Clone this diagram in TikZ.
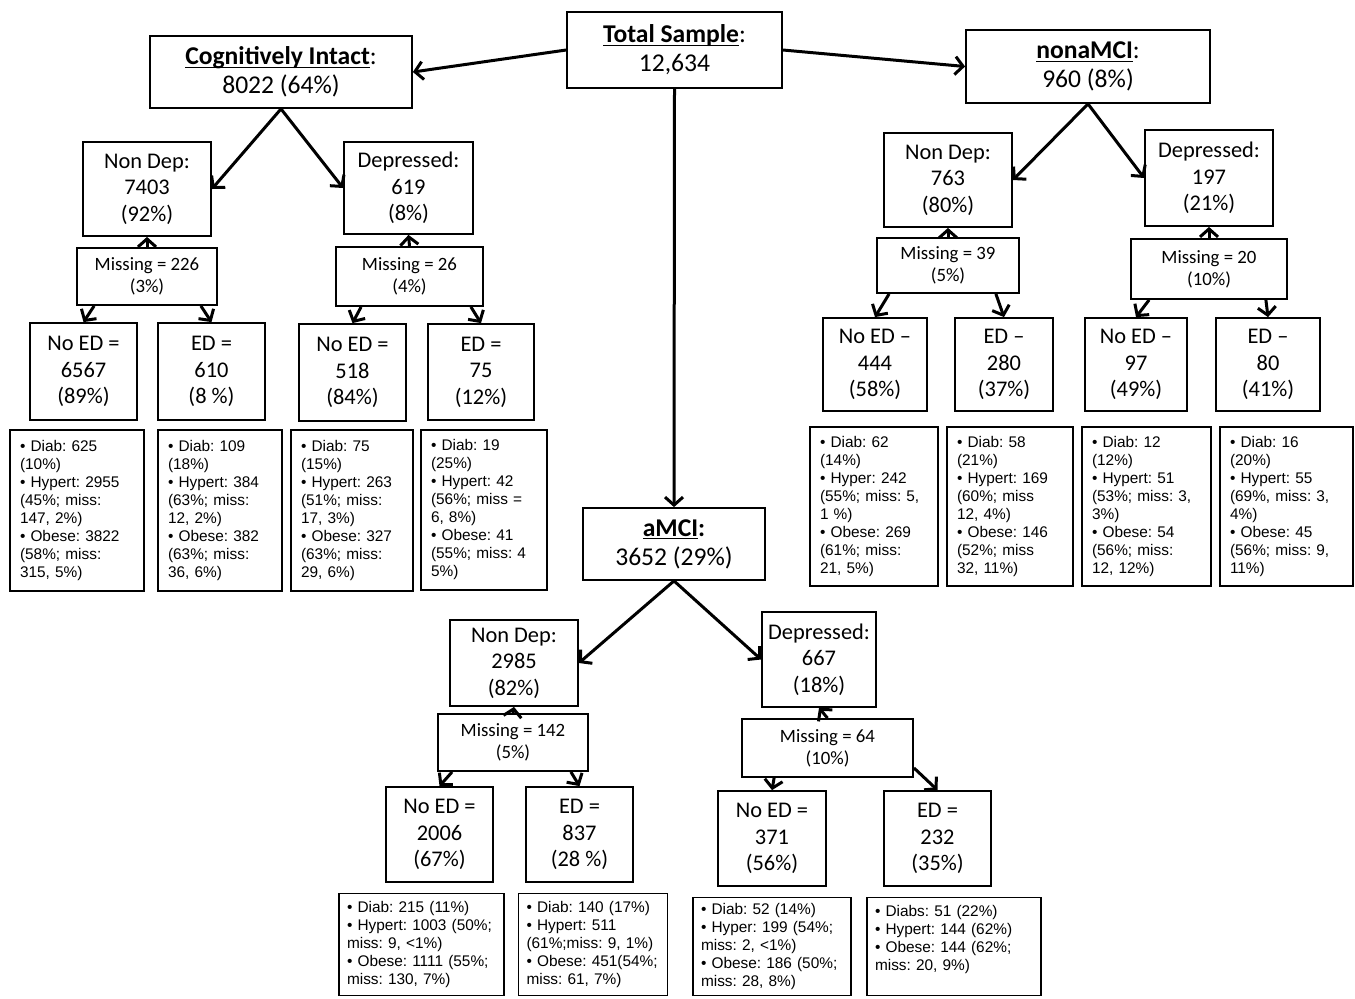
\documentclass[tikz,border=0pt]{standalone}
\usepackage{fontspec}
\setmainfont{Carlito}
\newfontfamily\arialf{Liberation Sans}
\usetikzlibrary{arrows.meta,calc}
\newcommand\myul[1]{\setbox0\hbox{#1}\rlap{\rule[-1.7pt]{\wd0}{0.7pt}}\box0}
\begin{document}
\begin{tikzpicture}[x=0.5pt,y=-0.5pt,
  bx/.style={draw, line width=0.9pt, inner sep=0pt, align=center, font=\fontsize{11.2}{13.3}\selectfont},
  hd/.style={bx, font=\fontsize{12.8}{14.6}\selectfont},
  ms/.style={bx, font=\fontsize{9.4}{11}\selectfont},
  st/.style={draw, line width=0.9pt, inner xsep=5pt, inner ysep=0pt, align=left, font=\arialf\frenchspacing\fontsize{7.7}{9}\selectfont},
  stb/.style={st, inner xsep=4pt},
  arr/.style={line width=1.5pt, -{Straight Barb[length=4pt,width=9pt]}},
]
\useasboundingbox (0,0) rectangle (1355,998);

% ---------- top level ----------
\node[hd, minimum width=107.5pt, minimum height=38pt] (total) at (674.5,50) {\myul{\textbf{Total Sample}}:\\12,634};
\node[hd, minimum width=131pt, minimum height=36pt] (ci) at (281,72) {\myul{\textbf{Cognitively Intact}}:\\8022 (64\%)};
\node[hd, minimum width=122pt, minimum height=36.5pt] (na) at (1088,66.5) {\myul{\textbf{nonaMCI}}:\\960 (8\%)};
\node[hd, minimum width=91pt, minimum height=36pt] (am) at (674,544) {\myul{\textbf{aMCI}}\textbf{:}\\3652 (29\%)};

\draw[arr] (total.west) -- (ci.east);
\draw[arr] (total.east) -- (na.west);
\draw[arr] (total.south) -- (am.north);

% ---------- Cognitively intact subtree ----------
\node[bx, minimum width=64pt, minimum height=47pt] (cind) at (147,189) {Non Dep:\\7403\\(92\%)};
\node[bx, minimum width=64.5pt, minimum height=46pt] (cid) at (408.5,188) {Depressed:\\619\\(8\%)};
\node[ms, minimum width=70pt, minimum height=28.5pt] (cim1) at (147,276.5) {Missing = 226\\(3\%)};
\node[ms, minimum width=73.5pt, minimum height=29.5pt] (cim2) at (409.5,276.5) {Missing = 26\\(4\%)};
\node[bx, minimum width=53.5pt, minimum height=48.5pt] (cia) at (83.5,371.5) {No ED =\\6567\\(89\%)};
\node[bx, minimum width=53.5pt, minimum height=48.5pt] (cib) at (211.5,371.5) {ED =\\610\\(8 \%)};
\node[bx, minimum width=53.5pt, minimum height=48.5pt] (cic) at (352.5,372.5) {No ED =\\518\\(84\%)};
\node[bx, minimum width=53pt, minimum height=48pt] (cie) at (481,372) {ED =\\75\\(12\%)};

\draw[arr] (ci.south) -- (cind.east);
\draw[arr] (ci.south) -- (cid.west);
\draw[arr] (cim1.north) -- (cind.south);
\draw[arr] (cim2.north) -- (cid.south);
\draw[arr] ($(cim1.south west)+(18,0)$) -- (cia.north);
\draw[arr] ($(cim1.south east)+(-17,0)$) -- (cib.north);
\draw[arr] ($(cim2.south west)+(26,0)$) -- (cic.north);
\draw[arr] ($(cim2.south east)+(-13,0)$) -- (cie.north);

\node[st, text width=57pt, minimum height=80.5pt] (s1) at (77,510.5) {• Diab: 625\\(10\%)\\• Hypert: 2955\\(45\%; miss:\\147, 2\%)\\• Obese: 3822\\(58\%; miss:\\315, 5\%)};
\node[st, text width=52pt, minimum height=80.5pt] (s2) at (220,510.5) {• Diab: 109\\(18\%)\\• Hypert: 384\\(63\%; miss:\\12, 2\%)\\• Obese: 382\\(63\%; miss:\\36, 6\%)};
\node[st, text width=51pt, minimum height=80.5pt] (s3) at (352,510.5) {• Diab: 75\\(15\%)\\• Hypert: 263\\(51\%; miss:\\17, 3\%)\\• Obese: 327\\(63\%; miss:\\29, 6\%)};
\node[st, text width=53pt, minimum height=80pt] (s4) at (484,510) {• Diab: 19\\(25\%)\\• Hypert: 42\\(56\%; miss =\\6, 8\%)\\• Obese: 41\\(55\%; miss: 4\\5\%)};

% ---------- nonaMCI subtree ----------
\node[bx, minimum width=64pt, minimum height=47pt] (nand) at (948,180) {Non Dep:\\763\\(80\%)};
\node[bx, minimum width=64pt, minimum height=48pt] (nad) at (1209,178) {Depressed:\\197\\(21\%)};
\node[ms, minimum width=71pt, minimum height=27.5pt] (nam1) at (948,265.5) {Missing = 39\\(5\%)};
\node[ms, minimum width=78pt, minimum height=30pt] (nam2) at (1209,269) {Missing = 20\\(10\%)};
\node[bx, minimum width=52pt, minimum height=46.5pt] (naa) at (875,364.5) {No ED –\\444\\(58\%)};
\node[bx, minimum width=49pt, minimum height=46.5pt] (nab) at (1004,364.5) {ED –\\280\\(37\%)};
\node[bx, minimum width=51pt, minimum height=46.5pt] (nac) at (1136,364.5) {No ED –\\97\\(49\%)};
\node[bx, minimum width=52pt, minimum height=46.5pt] (nae) at (1268,364.5) {ED –\\80\\(41\%)};

\draw[arr] (na.south) -- (nand.east);
\draw[arr] (na.south) -- (nad.west);
\draw[arr] (nam1.north) -- (nand.south);
\draw[arr] (nam2.north) -- (nad.south);
\draw[arr] ($(nam1.south west)+(13,0)$) -- (naa.north);
\draw[arr] ($(nam1.south east)+(-24,0)$) -- (nab.north);
\draw[arr] ($(nam2.south west)+(19,0)$) -- (nac.north);
\draw[arr] ($(nam2.south east)+(-22,0)$) -- (nae.north);

\node[st, text width=54pt, minimum height=79.5pt] (s5) at (874,506.5) {• Diab: 62\\(14\%)\\• Hyper: 242\\(55\%; miss: 5,\\1 \%)\\• Obese: 269\\(61\%; miss:\\21, 5\%)};
\node[st, text width=53pt, minimum height=79.5pt] (s6) at (1010,506.5) {• Diab: 58\\(21\%)\\• Hypert: 169\\(60\%; miss\\12, 4\%)\\• Obese: 146\\(52\%; miss\\32, 11\%)};
\node[st, text width=54.5pt, minimum height=79.5pt] (s7) at (1146.5,506.5) {• Diab: 12\\(12\%)\\• Hypert: 51\\(53\%; miss: 3,\\3\%)\\• Obese: 54\\(56\%; miss:\\12, 12\%)};
\node[st, text width=56.5pt, minimum height=79.5pt] (s8) at (1286.5,506.5) {• Diab: 16\\(20\%)\\• Hypert: 55\\(69\%, miss: 3,\\4\%)\\• Obese: 45\\(56\%; miss: 9,\\11\%)};

% ---------- aMCI subtree ----------
\node[bx, minimum width=64pt, minimum height=43pt] (amnd) at (514,663) {Non Dep:\\2985\\(82\%)};
\node[bx, minimum width=57pt, minimum height=47.5pt] (amd) at (819,659.5) {Depressed:\\667\\(18\%)};
\node[ms, minimum width=75pt, minimum height=28.5pt] (amm1) at (513,742.5) {Missing = 142\\(5\%)};
\node[ms, minimum width=85.5pt, minimum height=29pt] (amm2) at (827.5,748) {Missing = 64\\(10\%)};
\node[bx, minimum width=53.5pt, minimum height=47.5pt] (ama) at (439.5,834.5) {No ED =\\2006\\(67\%)};
\node[bx, minimum width=53.5pt, minimum height=47.5pt] (amb) at (579.5,834.5) {ED =\\837\\(28 \%)};
\node[bx, minimum width=54pt, minimum height=47.5pt] (amc) at (772,838.5) {No ED =\\371\\(56\%)};
\node[bx, minimum width=53.5pt, minimum height=47.5pt] (ame) at (937.5,838.5) {ED =\\232\\(35\%)};

\draw[arr] (am.south) -- (amnd.east);
\draw[arr] (am.south) -- (amd.west);
\draw[arr] (amm1.north) -- (amnd.south);
\draw[arr] (amm2.north) -- (amd.south);
\draw[arr] ($(amm1.south west)+(15,0)$) -- (ama.north);
\draw[arr] ($(amm1.south east)+(-18,0)$) -- (amb.north);
\draw[arr] ($(amm2.south west)+(33,0)$) -- (amc.north);
\draw[arr] ($(amm2.south east)+(0,-10)$) -- (ame.north);

\node[stb, text width=74.5pt, minimum height=51pt] (s9) at (421.5,944.5) {• Diab: 215 (11\%)\\• Hypert: 1003 (50\%;\\miss: 9, <1\%)\\• Obese: 1111 (55\%;\\miss: 130, 7\%)};
\node[stb, text width=66.5pt, minimum height=51pt] (s10) at (593,944.5) {• Diab: 140 (17\%)\\• Hypert: 511\\(61\%;miss: 9, 1\%)\\• Obese: 451(54\%;\\miss: 61, 7\%)};
\node[stb, text width=71pt, minimum height=49pt] (s11) at (772,946.5) {• Diab: 52 (14\%)\\• Hyper: 199 (54\%;\\miss: 2, <1\%)\\• Obese: 186 (50\%;\\miss: 28, 8\%)};
\node[stb, text width=79pt, minimum height=49pt] (s12) at (954,946.5) {• Diabs: 51 (22\%)\\• Hypert: 144 (62\%)\\• Obese: 144 (62\%;\\miss: 20, 9\%)\\\mbox{}};
\end{tikzpicture}
\end{document}
